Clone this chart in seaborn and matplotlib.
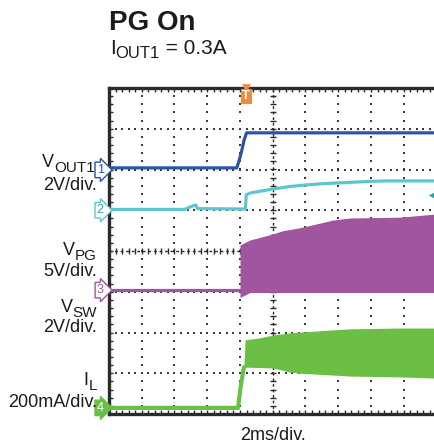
import numpy as np
import pandas as pd
import matplotlib
matplotlib.use("Agg")
import matplotlib.pyplot as plt
import matplotlib.transforms as mtransforms
import seaborn as sns

# ---- data (time in ms, 2 ms/div; vertical position in screen divisions 0..8) ----
vout1_t = [0, 7.8, 7.95, 8.1, 8.25, 8.4, 9.0, 12.0, 16.0, 20.0]
vout1_v = [6.04, 6.04, 6.22, 6.45, 6.72, 6.9, 6.9, 6.9, 6.9, 6.9]

vsw2_t = [0, 4.6, 5.0, 5.3, 5.4, 8.33, 8.38, 8.6, 9.0, 10, 11, 12, 13, 14, 15, 16, 17, 18, 19, 20]
vsw2_v = [5.02, 5.02, 5.09, 5.13, 5.04, 5.03, 5.38, 5.42, 5.45, 5.52, 5.58, 5.62, 5.65, 5.67,
          5.69, 5.71, 5.72, 5.72, 5.72, 5.72]

vpg_base_t = [0, 4.0, 7.98]
vpg_base_v = [3.04, 3.04, 3.04]
vpg_env_t = [8.0, 8.61, 10.02, 10.63, 11.66, 13.68, 14.72, 17.77, 20.0]
vpg_top = [4.15, 4.27, 4.42, 4.50, 4.57, 4.76, 4.81, 4.83, 4.91]
vpg_bot = [2.86, 2.98, 2.98, 2.98, 2.98, 2.98, 2.98, 2.98, 2.98]

il_base_t = [0, 7.88, 8.05, 8.24]
il_base_v = [0.15, 0.15, 0.7, 1.15]
il_env_t = [8.24, 8.31, 9.22, 10.02, 11.05, 11.66, 13.5, 14.72, 17.77, 20.0]
il_top = [1.15, 1.82, 1.87, 1.94, 1.99, 2.01, 2.06, 2.09, 2.11, 2.11]
il_bot = [1.15, 1.15, 1.14, 1.13, 1.03, 1.0, 0.96, 0.93, 0.91, 0.88]

ch_levels = [5.99, 5.0, 3.04, 0.15]      # channel ground markers (div)
trig_t = 8.37                            # trigger position (ms)
trig_level = 5.37                        # trigger level marker (div)

C1 = "#2a54a8"
C2 = "#5cc6d0"
C3 = "#a1559f"
C4 = "#6cbf45"
ORANGE = "#f08a3c"
TXT = "#1c1c1c"

sns.set_theme(style="white")
plt.rcParams["font.family"] = ["Liberation Sans", "DejaVu Sans"]

W, H = 435, 448
fig = plt.figure(figsize=(W / 100, H / 100), dpi=100)
ax = fig.add_axes([109 / W, (H - 414) / H, 327.5 / W, 326 / H])
ax.set_xlim(0, 20)
ax.set_ylim(0, 8)

def P(x, y):
    return (x / W, 1 - y / H)

# ---- graticule ----
gx = [2, 4, 6, 8, 12, 14, 16, 18]
gy = [1, 2, 3, 5, 6, 7]
dy = np.arange(0.2, 8.0, 0.2)
dx = np.arange(0.4, 20.0, 0.4)
DOT = "#3a3a3a"
for x in gx:
    ax.scatter(np.full_like(dy, x), dy, s=1.1, marker="s", color=DOT, linewidths=0, zorder=1)
for y in gy:
    ax.scatter(dx, np.full_like(dx, y), s=1.1, marker="s", color=DOT, linewidths=0, zorder=1)
ax.axvline(10, color="#2a2a2a", lw=1.0, ls=(0, (2, 2)), zorder=1)
ax.axhline(4, color="#2a2a2a", lw=1.0, ls=(0, (2, 2)), zorder=1)
ax.scatter(dx, np.full_like(dx, 4), s=22, marker="|", color="#2a2a2a", linewidths=1.0, zorder=1)
ax.scatter(np.full_like(dy, 10), dy, s=22, marker="_", color="#2a2a2a", linewidths=1.0, zorder=1)

# ---- traces ----
ax.fill_between(vpg_env_t, vpg_bot, vpg_top, color=C3, linewidth=0, zorder=3)
ax.fill_between(il_env_t, il_bot, il_top, color=C4, linewidth=0, zorder=3)

df1 = pd.DataFrame({"t": vout1_t, "v": vout1_v})
df2 = pd.DataFrame({"t": vsw2_t, "v": vsw2_v})
df3 = pd.DataFrame({"t": vpg_base_t, "v": vpg_base_v})
df4 = pd.DataFrame({"t": il_base_t, "v": il_base_v})
sns.lineplot(data=df1, x="t", y="v", ax=ax, color=C1, lw=2.3, estimator=None, sort=False, zorder=4)
sns.lineplot(data=df2, x="t", y="v", ax=ax, color=C2, lw=2.3, estimator=None, sort=False, zorder=4)
sns.lineplot(data=df3, x="t", y="v", ax=ax, color=C3, lw=2.3, estimator=None, sort=False, zorder=4)
sns.lineplot(data=df4, x="t", y="v", ax=ax, color=C4, lw=3.0, estimator=None, sort=False, zorder=4)
ax.set_xlabel("")
ax.set_ylabel("")

# ---- frame ----
for s in ["left", "top", "bottom"]:
    ax.spines[s].set_linewidth(2.4)
    ax.spines[s].set_color("#2b2b2b")
ax.spines["right"].set_visible(False)
ax.set_xticks(np.arange(0, 20.01, 2))
ax.set_xticks(np.arange(0, 20.01, 0.4), minor=True)
ax.set_yticks(np.arange(0, 8.01, 1))
ax.set_yticks(np.arange(0, 8.01, 0.2), minor=True)
ax.tick_params(which="both", direction="in", length=3, width=1, color="#2a2a2a",
               top=True, bottom=True, left=True, right=False,
               labelbottom=False, labelleft=False, labeltop=False)

# ---- channel markers ----
trans = mtransforms.blended_transform_factory(ax.transAxes, ax.transData)
mk = [("1", C1, "white", C1), ("2", C2, "white", "#2aa0a8"),
      ("3", C3, "white", C3), ("4", C4, C4, "white")]
for (lab, ec, fc, tc), lv in zip(mk, ch_levels):
    ax.text(-0.016, lv, lab, transform=trans, ha="right", va="center", fontsize=9,
            color=tc, clip_on=False, zorder=6,
            bbox=dict(boxstyle="rarrow,pad=0.14", fc=fc, ec=ec, lw=1.0))

# trigger marker
ax.scatter([trig_t], [8.0], marker="v", s=40, color=ORANGE, clip_on=False, zorder=6, linewidths=0)
ax.text(trig_t, 7.8, "T", ha="center", va="center", fontsize=9, color="white", fontweight="bold",
        zorder=6, bbox=dict(boxstyle="square,pad=0.1", fc=ORANGE, ec=ORANGE, lw=0.8))
ax.scatter([19.7], [trig_level], marker="<", s=30, color="#2aa0a8", zorder=6, linewidths=0)

# ---- text ----
renderer = fig.canvas.get_renderer()

def text_width_px(t):
    return t.get_window_extent(renderer=renderer).width

def sub_label_right(main, sub, xr, yb, size=13, subsize=11, drop=5):
    ts = fig.text(*P(xr, yb + drop), sub, fontsize=subsize, color=TXT, ha="right", va="baseline")
    w = text_width_px(ts)
    fig.text(*P(xr - w, yb), main, fontsize=size, color=TXT, ha="right", va="baseline")

fig.text(*P(109, 30), "PG On", fontsize=20, fontweight="bold", color=TXT, ha="left", va="baseline")
# I_OUT1 = 0.3A
t1 = fig.text(*P(110, 54), "I", fontsize=15, color=TXT, ha="left", va="baseline")
x = 110 + text_width_px(t1)
t2 = fig.text(*P(x, 58), "OUT1", fontsize=12, color=TXT, ha="left", va="baseline")
x += text_width_px(t2)
fig.text(*P(x, 54), " = 0.3A", fontsize=15, color=TXT, ha="left", va="baseline")

sub_label_right("V", "OUT1", 95, 167)
fig.text(*P(97, 190), "2V/div.", fontsize=13, color=TXT, ha="right", va="baseline")
sub_label_right("V", "PG", 97, 255)
fig.text(*P(97, 276), "5V/div.", fontsize=13, color=TXT, ha="right", va="baseline")
sub_label_right("V", "SW", 97, 312)
fig.text(*P(97, 332), "2V/div.", fontsize=13, color=TXT, ha="right", va="baseline")
sub_label_right("I", "L", 97, 385)
fig.text(*P(97, 407), "200mA/div.", fontsize=13, color=TXT, ha="right", va="baseline")

fig.text(*P(273, 440), "2ms/div.", fontsize=13, color=TXT, ha="center", va="baseline")

fig.savefig("out.png", dpi=100)
